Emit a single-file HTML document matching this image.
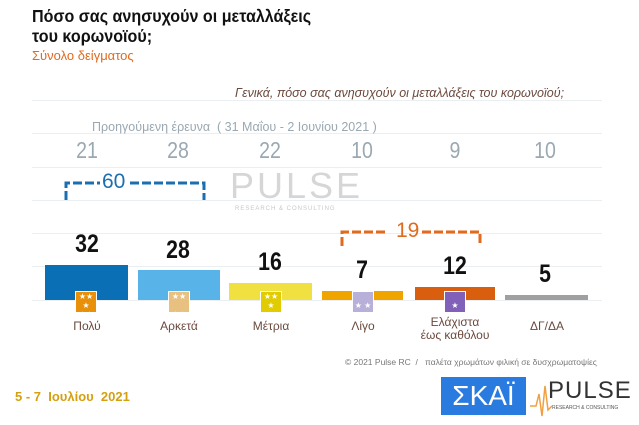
<!DOCTYPE html>
<html><head><meta charset="utf-8"><style>
body{margin:0;width:639px;height:425px;background:#fff;position:relative;overflow:hidden;font-family:"Liberation Sans","DejaVu Sans",sans-serif}
.a{position:absolute}
.g{position:absolute;left:32px;width:570px;height:1px;background:#eceff2}
.n{position:absolute;width:80px;text-align:center;font-weight:bold;font-size:25px;color:#111;transform:scaleX(0.85)}
.p{position:absolute;width:80px;text-align:center;font-size:23px;color:#9aa8b2;transform:scaleX(0.85)}
.l{position:absolute;width:90px;text-align:center;font-size:12px;color:#6b4a3e;line-height:13px}
.ic{position:absolute;width:20px;height:20px;border:1px solid #fff;color:#fff;font-size:8px;text-align:center;line-height:9px}
</style></head><body>
<div class="a" style="left:32px;top:6px;font-size:17.5px;font-weight:bold;line-height:20px;color:#111;transform:scaleX(0.92);transform-origin:left">Πόσο σας ανησυχούν οι μεταλλάξεις<br>του κορωνοϊού;</div>
<div class="a" style="left:32px;top:48px;font-size:13px;color:#e06a1e">Σύνολο δείγματος</div>
<div class="g" style="top:100px"></div><div class="g" style="top:133px"></div><div class="g" style="top:167px"></div><div class="g" style="top:200px"></div><div class="g" style="top:233px"></div><div class="g" style="top:266px"></div><div class="g" style="top:300px"></div>
<div class="a" style="left:235px;top:86px;font-size:12.5px;font-style:italic;color:#6b4a3e">Γενικά, πόσο σας ανησυχούν οι μεταλλάξεις του κορωνοϊού;</div>
<div class="a" style="left:92px;top:120px;font-size:12.5px;color:#9aa8b2">Προηγούμενη έρευνα &nbsp;( 31 Μαΐου - 2 Ιουνίου 2021 )</div>
<div class="p" style="left:47px;top:137px">21</div><div class="p" style="left:138px;top:137px">28</div><div class="p" style="left:230px;top:137px">22</div><div class="p" style="left:322px;top:137px">10</div><div class="p" style="left:415px;top:137px">9</div><div class="p" style="left:505px;top:137px">10</div>
<div class="a" style="left:230px;top:165px;font-size:36px;color:#d6d6d6;letter-spacing:3px">PULSE</div>
<div class="a" style="left:235px;top:206px;font-size:6px;color:#c8c8c8;letter-spacing:1px">RESEARCH &amp; CONSULTING</div>
<svg class="a" style="left:0;top:0" width="639" height="425">
<path d="M66 200 V183 H100 M130 183 H204 V200" stroke="#1b6fb0" stroke-width="3" fill="none" stroke-dasharray="9 3"/>
<path d="M342 246 V232 H385 M422 232 H480 V246" stroke="#e06a1e" stroke-width="3" fill="none" stroke-dasharray="9 3"/>
<rect x="45" y="265" width="83" height="35" fill="#0b6fb5"/>
<rect x="138" y="270" width="82" height="30" fill="#58b4e8"/>
<rect x="229" y="283" width="83" height="17" fill="#f0e040"/>
<rect x="322" y="291" width="81" height="9" fill="#f0a400"/>
<rect x="415" y="287" width="80" height="13" fill="#d95f0e"/>
<rect x="505" y="295" width="83" height="5" fill="#a0a0a0"/>
</svg>
<div class="a" style="left:102px;top:170px;font-size:21px;color:#1b6fb0">60</div>
<div class="a" style="left:396px;top:219px;font-size:21px;color:#e06a1e">19</div>
<div class="n" style="left:47px;top:230px">32</div><div class="n" style="left:138px;top:236px">28</div><div class="n" style="left:230px;top:248px">16</div><div class="n" style="left:322px;top:256px">7</div><div class="n" style="left:415px;top:252px">12</div><div class="n" style="left:505px;top:260px">5</div>
<div class="ic" style="left:75px;top:291px;background:#e8900a">★★<br>★<br>★★</div>
<div class="ic" style="left:168px;top:291px;background:#e8c080">★★<br><br>★★</div>
<div class="ic" style="left:260px;top:291px;background:#e0cc00">★★<br>★</div>
<div class="ic" style="left:352px;top:291px;background:#b8b0d8"><br>★ ★</div>
<div class="ic" style="left:444px;top:291px;background:#8060b8"><br>★</div>
<div class="l" style="left:42px;top:320px">Πολύ</div><div class="l" style="left:134px;top:320px">Αρκετά</div><div class="l" style="left:226px;top:320px">Μέτρια</div><div class="l" style="left:318px;top:320px">Λίγο</div><div class="l" style="left:410px;top:316px">Ελάχιστα<br>έως καθόλου</div><div class="l" style="left:502px;top:320px">ΔΓ/ΔΑ</div>
<div class="a" style="left:345px;top:357px;font-size:8.5px;color:#777">© 2021 Pulse RC &nbsp;/ &nbsp; παλέτα χρωμάτων φιλική σε δυσχρωματοψίες</div>
<div class="a" style="left:15px;top:389px;font-size:13px;font-weight:bold;color:#d4a010">5 - 7 &nbsp;Ιουλίου &nbsp;2021</div>
<div class="a" style="left:441px;top:377px;width:85px;height:38px;background:#2a7be0;color:#fff;font-size:28px;text-align:center;line-height:38px">ΣΚΑΪ</div>
<div class="a" style="left:548px;top:377px;font-size:24px;color:#333;letter-spacing:1px">PULSE</div>
<div class="a" style="left:552px;top:405px;font-size:5px;color:#555">RESEARCH &amp; CONSULTING</div>
<svg class="a" style="left:530px;top:380px" width="22" height="40"><path d="M0 26 H6 L9 14 L12 36 L15 6 L18 30 L22 26" stroke="#f0a040" fill="none" stroke-width="1.5"/></svg>
</body></html>
